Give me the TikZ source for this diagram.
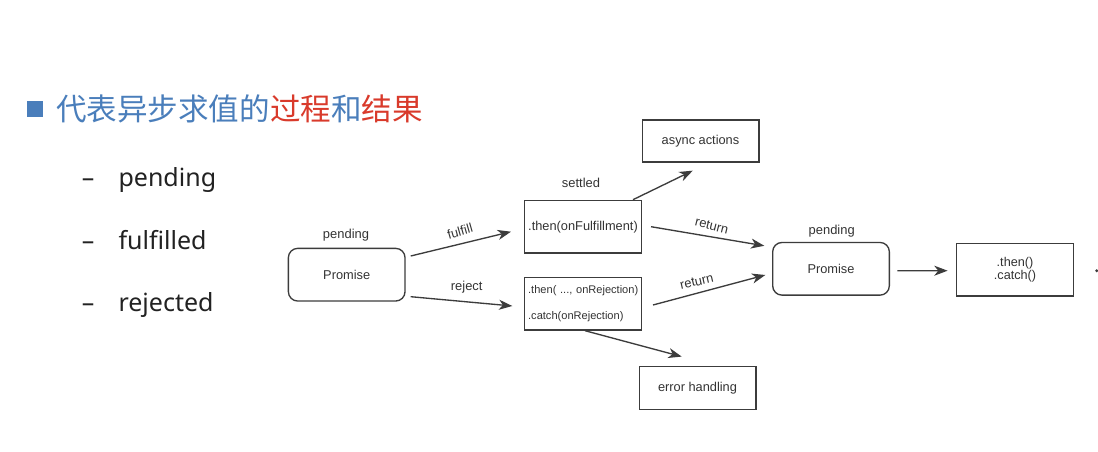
\documentclass[tikz,border=0pt]{standalone}
\usepackage{fontspec}
\setmainfont{Liberation Sans}
\newfontfamily\cjkfont{Noto Sans CJK SC}
\newfontfamily\bulletfont{Noto Sans}
\usetikzlibrary{arrows.meta,calc}
\definecolor{tblue}{HTML}{4A7EBB}
\definecolor{tred}{HTML}{D93A2B}
\definecolor{dline}{HTML}{3C3C3C}
\definecolor{dtext}{HTML}{333333}
\definecolor{btext}{HTML}{222222}
\begin{document}
\begin{tikzpicture}[x=0.75pt,y=-0.75pt,
  box/.style={draw=dline,line width=1pt,minimum width=87.5pt,minimum height=39.5pt,inner sep=0pt,text=dtext,font=\fontsize{9.6}{10}\selectfont},
  rbox/.style={box,rounded corners=7pt},
  lbl/.style={text=dtext,font=\fontsize{9.7}{11}\selectfont,inner sep=0pt},
  arr/.style={draw=dline,line width=1pt,-{Stealth[length=10pt,width=7.5pt,inset=3pt]}},
  bul/.style={font=\bulletfont\fontsize{18.75}{22}\selectfont,text=btext,inner sep=0pt,anchor=base west}]
\useasboundingbox[fill=white] (0,0) rectangle (1098,452);

% title
\fill[tblue] (26.7,100.7) rectangle (43.3,116.7);
\node[anchor=base west,inner sep=0pt,font=\cjkfont\fontsize{22.9}{26}\selectfont,text=tblue] (title) at (56,121) {代表异步求值的\textcolor{tred}{过程}和\textcolor{tred}{结果}};

% bullets
\node[bul] (d1) at (81.7,186.7) {–};
\node[bul] (b1) at (118.3,186.7) {pending};
\node[bul] (d2) at (81.7,249.2) {–};
\node[bul] (b2) at (118.3,249.2) {fulfilled};
\node[bul] (d3) at (81.7,311.7) {–};
\node[bul] (b3) at (118.3,311.7) {rejected};

% boxes
\node[rbox] (p1) at (346.7,274.7) {Promise};
\node[box] (t1) at (583,226.7) {.then(onFulfillment)};
\node[box,align=left,inner xsep=2.6pt,text width=82.3pt,font=\fontsize{8.3}{20}\selectfont] (t2) at (583,303.7) {\mbox{.then( ..., onRejection)}\\\mbox{.catch(onRejection)}};
\node[box,minimum height=31.5pt] (async) at (700.5,141) {async actions};
\node[box,minimum height=32pt] (err) at (697.5,388) {error handling};
\node[rbox] (p2) at (831,268.8) {Promise};
\node[box,align=center,font=\fontsize{9.5}{10}\selectfont] (tc) at (1015,269.7) {.then()\\.catch()};

% labels
\node[lbl] (lp1) at (346,235) {pending};
\node[lbl] (lset) at (581,183.3) {settled};
\node[lbl] (lp2) at (831.7,230.7) {pending};
\node[lbl,rotate=16] (lful) at (460,231) {fulfill};
\node[lbl] (lrej) at (466.7,287.3) {reject};
\node[lbl,rotate=-14] (lret1) at (711.7,226) {return};
\node[lbl,rotate=13] (lret2) at (696.7,281.7) {return};

% connectors
\draw[arr] ([shift={(5,-18.7)}]p1.east) -- ([shift={(-13,5)}]t1.west);
\draw[arr] ([shift={(5,22)}]p1.east) -- ([shift={(-11.7,2.3)}]t2.west);
\draw[arr] ([shift={(-9,0)}]t1.north east) -- ([shift={(-7.8,8)}]async.south);
\draw[arr] ([shift={(9,0)}]t1.east) -- ([shift={(-7.7,4)}]p2.north west);
\draw[arr] ([shift={(11,1.3)}]t2.east) -- ([shift={(-6.7,6.2)}]p2.west);
\draw[arr] ([shift={(2,0)}]t2.south) -- ([shift={(-15.8,-9.4)}]err.north);
\draw[arr] ([shift={(7.4,1.9)}]p2.east) -- ([shift={(-8.4,1)}]tc.west);

\fill[dline] (1096.7,270.7) circle (1.2pt);
\end{tikzpicture}
\end{document}
